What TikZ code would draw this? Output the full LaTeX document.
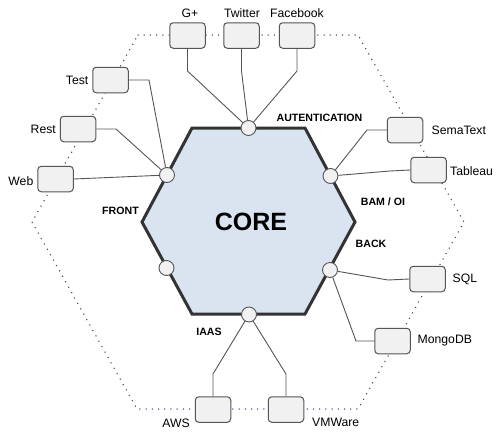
\documentclass[tikz,border=0pt]{standalone}
\usepackage{fontspec}
\setmainfont{Liberation Sans}
\definecolor{corefill}{HTML}{DAE4F1}
\definecolor{corestroke}{HTML}{333333}
\definecolor{boxfill}{HTML}{F1F1F1}
\definecolor{boxstroke}{HTML}{555555}
\definecolor{wire}{HTML}{555555}
\definecolor{dotcol}{HTML}{2E4570}
\tikzset{
  boxnode/.style={draw=boxstroke, fill=boxfill, line width=1pt, rounded corners=3.5pt,
    minimum width=35.5pt, minimum height=25.5pt, inner sep=0pt},
  portnode/.style={circle, draw=boxstroke, fill=boxfill, line width=0.9pt,
    minimum size=15pt, inner sep=0pt},
  wirestyle/.style={draw=wire, line width=0.9pt},
  outerline/.style={draw=dotcol, line width=1.5pt, line cap=round, dash pattern=on 0pt off 6.2pt},
  corestyle/.style={draw=corestroke, fill=corefill, line width=3pt, line join=miter},
  lbl/.style={font=\fontsize{12.2}{14}\selectfont, inner sep=0pt},
  sidelbl/.style={font=\fontsize{10.6}{12}\selectfont\bfseries, inner sep=0pt}
}
\begin{document}
\begin{tikzpicture}[x=1pt,y=-1pt]
\useasboundingbox (0,0) rectangle (500,434);
\fill[white] (0,0) rectangle (500,434);

% outer dotted hexagon
\draw[outerline] (138,35) -- (358,35) -- (464,222) -- (358,409) -- (137,409) -- (32,222) -- cycle;

% core hexagon
\draw[corestyle] (192,128) -- (305,128) -- (355,222) -- (305,314) -- (192,314) -- (142,222) -- cycle;
\node[font=\fontsize{25}{30}\selectfont\bfseries, inner sep=0pt] (core) at (251,221.5) {CORE};

% ports
\node[portnode] (ptop) at (248.5,128) {};
\node[portnode] (pul) at (167,175) {};
\node[portnode] (pur) at (330.5,176) {};
\node[portnode] (pll) at (166.5,268) {};
\node[portnode] (plr) at (330,270) {};
\node[portnode] (pbot) at (249,314.5) {};

% boxes
\node[boxnode] (gplus) at (187.5,35.5) {};
\node[boxnode] (twitter) at (241.5,35.5) {};
\node[boxnode] (facebook) at (297,35.5) {};
\node[boxnode] (test) at (110.5,80) {};
\node[boxnode] (rest) at (78,129) {};
\node[boxnode] (web) at (55.5,179) {};
\node[boxnode] (sematext) at (405,130) {};
\node[boxnode] (tableau) at (428.5,170) {};
\node[boxnode] (sql) at (427.5,279) {};
\node[boxnode] (mongo) at (392.5,341) {};
\node[boxnode] (aws) at (213,409.5) {};
\node[boxnode] (vmware) at (286,409.5) {};

% bend points
\coordinate (bg) at (187.5,71);
\coordinate (bt) at (241.5,71);
\coordinate (bf) at (297,71);
\coordinate (bte) at (149,80);
\coordinate (bre) at (116,129);
\coordinate (bwe) at (97,178);
\coordinate (bse) at (367,130);
\coordinate (bta) at (390,171);
\coordinate (bsq) at (388,280);
\coordinate (bmo) at (356,341);
\coordinate (baw) at (213,374);
\coordinate (bvm) at (286,374);

% connectors
\draw[wirestyle] (gplus.south) -- (bg) -- (ptop);
\draw[wirestyle] (twitter.south) -- (bt) -- (ptop);
\draw[wirestyle] (facebook.south) -- (bf) -- (ptop);
\draw[wirestyle] (test.east) -- (bte) -- (pul);
\draw[wirestyle] (rest.east) -- (bre) -- (pul);
\draw[wirestyle] (web.east) -- (bwe) -- (pul);
\draw[wirestyle] (sematext.west) -- (bse) -- (pur);
\draw[wirestyle] (tableau.west) -- (bta) -- (pur);
\draw[wirestyle] (sql.west) -- (bsq) -- (plr);
\draw[wirestyle] (mongo.west) -- (bmo) -- (plr);
\draw[wirestyle] (aws.north) -- (baw) -- (pbot);
\draw[wirestyle] (vmware.north) -- (bvm) -- (pbot);

% box labels
\node[lbl] (lgplus) at (190,13) {G+};
\node[lbl] (ltwitter) at (242,13) {Twitter};
\node[lbl] (lfacebook) at (297,13) {Facebook};
\node[lbl, anchor=east] (ltest) at (88.5,80) {Test};
\node[lbl, anchor=east] (lrest) at (56,129.5) {Rest};
\node[lbl, anchor=east] (lweb) at (33.5,181) {Web};
\node[lbl, anchor=west] (lsematext) at (431.5,130.5) {SemaText};
\node[lbl, anchor=west] (ltableau) at (450,171) {Tableau};
\node[lbl, anchor=west] (lsql) at (452.5,279.5) {SQL};
\node[lbl, anchor=west] (lmongo) at (417.5,341) {MongoDB};
\node[lbl, anchor=east] (laws) at (190,423) {AWS};
\node[lbl, anchor=west] (lvmware) at (312,422.5) {VMWare};

% side labels
\node[sidelbl] (sauth) at (319.5,117.5) {AUTENTICATION};
\node[sidelbl] (sbam) at (383,202) {BAM / OI};
\node[sidelbl] (sback) at (371,243.5) {BACK};
\node[sidelbl] (sfront) at (120.5,210.5) {FRONT};
\node[sidelbl] (siaas) at (209,331.5) {IAAS};
\end{tikzpicture}
\end{document}
